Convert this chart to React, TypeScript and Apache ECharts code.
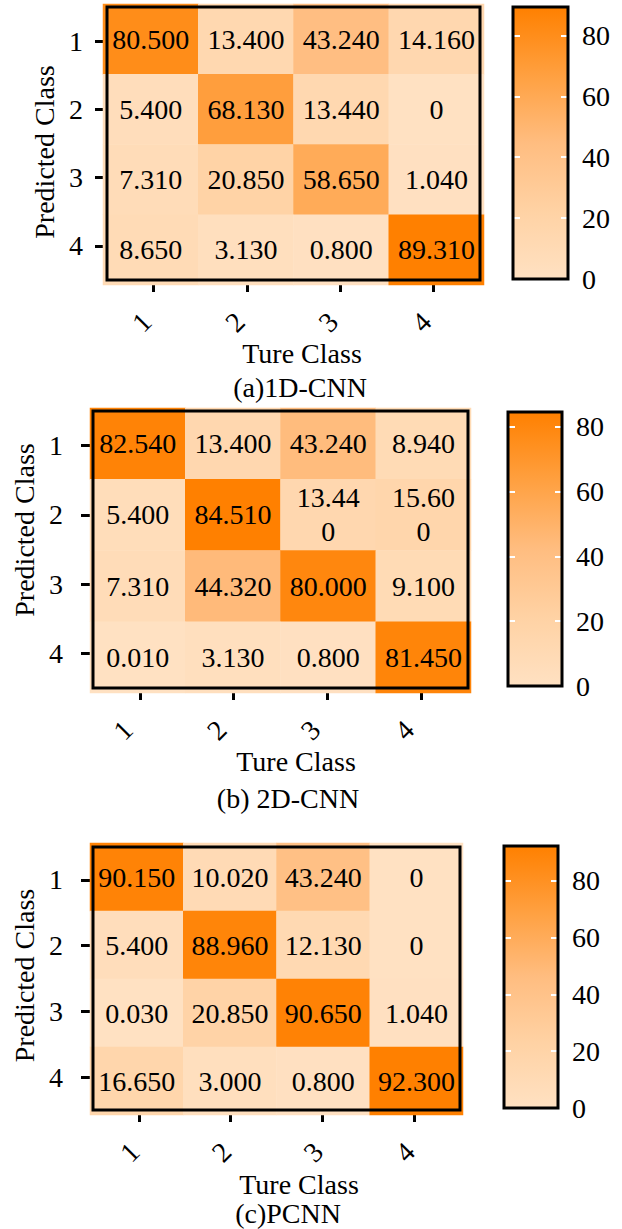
import React, { useEffect, useRef } from "react";
import * as echarts from "echarts";

// Class indices shared by both axes of every confusion matrix
const classLabels = ["1", "2", "3", "4"];

// Rows: predicted class 1..4, columns: true class 1..4
const cnn1D = [
  [80.5, 13.4, 43.24, 14.16],
  [5.4, 68.13, 13.44, 0],
  [7.31, 20.85, 58.65, 1.04],
  [8.65, 3.13, 0.8, 89.31],
];
const cnn2D = [
  [82.54, 13.4, 43.24, 8.94],
  [5.4, 84.51, 13.44, 15.6],
  [7.31, 44.32, 80.0, 9.1],
  [0.01, 3.13, 0.8, 81.45],
];
const pcnn = [
  [90.15, 10.02, 43.24, 0],
  [5.4, 88.96, 12.13, 0],
  [0.03, 20.85, 90.65, 1.04],
  [16.65, 3.0, 0.8, 92.3],
];

const captions = ["(a)1D-CNN", "(b) 2D-CNN", "(c)PCNN"];
const matrices = [cnn1D, cnn2D, pcnn];
// Cells (row, col) whose value text wraps onto two lines
const wrappedCells = [[], [[1, 2], [1, 3]], []];

const colorbarStep = 20;

const FONT = "Liberation Serif";
const ramp = ["#FFE1C2", "#FFD2A4", "#FFBD80", "#FFA040", "#FF8000"];

// Pixel layout of each panel: [left, top, width, height]
const layouts = [
  {
    frame: [107, 7, 373, 273],
    heat: [103, 4, 381, 281],
    bar: [513, 7, 55, 272],
    yLabelMargin: 24,
    yNameGap: 48,
    yNamePad: [0, 17, 0, 0],
    xLabelMargin: 30,
    xLabelPad: 10,
    xNameGap: 56,
    xNamePad: [0, 0, 0, 17],
    caption: [300, 387],
  },
  {
    frame: [93, 411, 375, 277],
    heat: [90, 408, 381, 285],
    bar: [508, 412, 54, 274],
    yLabelMargin: 30,
    yNameGap: 54,
    yNamePad: [0, 0, 0, 39],
    xLabelMargin: 25,
    xLabelPad: 17,
    xNameGap: 56,
    xNamePad: [0, 0, 0, 31],
    caption: [288, 798],
  },
  {
    frame: [93, 847, 367, 263],
    heat: [90, 843, 373, 272],
    bar: [504, 846, 54, 262],
    yLabelMargin: 30,
    yNameGap: 54,
    yNamePad: [0, 0, 0, 6],
    xLabelMargin: 33,
    xLabelPad: 6,
    xNameGap: 54,
    xNamePad: [0, 0, 0, 45],
    caption: [288, 1213],
  },
];

const textBase = { fontFamily: FONT, fontSize: 28, color: "#000" };

function buildOption() {
  const grid: any[] = [];
  const xAxis: any[] = [];
  const yAxis: any[] = [];
  const heatSeries: any[] = [];
  const barSeries: any[] = [];
  const visualMap: any[] = [];
  const graphic: any[] = [];

  matrices.forEach((matrix, i) => {
    const L = layouts[i];
    const maxVal = Math.max(...matrix.flat());
    const rect = (r: number[]) => ({ left: r[0], top: r[1], width: r[2], height: r[3] });

    const gFrame = grid.length;
    grid.push({
      ...rect(L.frame),
      show: true,
      borderColor: "#000",
      borderWidth: 3,
      backgroundColor: "transparent",
      z: 10,
    });
    const gHeat = grid.length;
    grid.push({ ...rect(L.heat), show: false });
    const gBar = grid.length;
    grid.push({
      ...rect(L.bar),
      show: true,
      borderColor: "#000",
      borderWidth: 3,
      backgroundColor: "transparent",
      z: 10,
    });

    // Frame axes: ticks, class labels and axis titles
    xAxis.push({
      gridIndex: gFrame,
      type: "category",
      data: classLabels,
      axisLine: { show: false },
      axisTick: { show: true, alignWithLabel: true, length: 12, lineStyle: { color: "#000", width: 3 } },
      axisLabel: {
        ...textBase,
        rotate: 45,
        margin: L.xLabelMargin,
        padding: [0, L.xLabelPad, 0, 0],
      },
      splitLine: { show: false },
      name: "Ture Class",
      nameLocation: "middle",
      nameGap: L.xNameGap,
      nameTextStyle: { ...textBase, padding: L.xNamePad },
    });
    yAxis.push({
      gridIndex: gFrame,
      type: "category",
      data: classLabels,
      inverse: true,
      axisLine: { show: false },
      axisTick: { show: true, alignWithLabel: true, length: 12, lineStyle: { color: "#000", width: 3 } },
      axisLabel: { ...textBase, margin: L.yLabelMargin },
      splitLine: { show: false },
      name: "Predicted Class",
      nameLocation: "middle",
      nameRotate: 90,
      nameGap: L.yNameGap,
      nameTextStyle: { ...textBase, padding: L.yNamePad },
    });

    // Heatmap axes (hidden)
    const xHeat = xAxis.length;
    xAxis.push({ gridIndex: gHeat, type: "category", data: classLabels, show: false });
    const yHeat = yAxis.length;
    yAxis.push({ gridIndex: gHeat, type: "category", data: classLabels, inverse: true, show: false });

    // Colour bar axes, white ticks drawn on top of the gradient
    const xBar = xAxis.length;
    xAxis.push({ gridIndex: gBar, type: "category", data: [""], show: false });
    const barTick = { show: true, inside: true, length: 7, lineStyle: { color: "#fff", width: 2 } };
    yAxis.push({
      gridIndex: gBar,
      type: "value",
      position: "left",
      min: 0,
      max: maxVal,
      interval: colorbarStep,
      z: 6,
      axisLine: { show: false },
      axisTick: barTick,
      axisLabel: { show: false },
      splitLine: { show: false },
    });
    const yBar = yAxis.length;
    yAxis.push({
      gridIndex: gBar,
      type: "value",
      position: "right",
      min: 0,
      max: maxVal,
      interval: colorbarStep,
      z: 6,
      axisLine: { show: false },
      axisTick: barTick,
      axisLabel: { ...textBase, margin: 14, showMaxLabel: false },
      splitLine: { show: false },
    });

    const wraps = wrappedCells[i];
    const data: any[] = [];
    matrix.forEach((row, r) =>
      row.forEach((v, c) => {
        const wrap = wraps.some(([wr, wc]) => wr === r && wc === c);
        data.push(
          wrap
            ? { value: [c, r, v], label: { width: 70, overflow: "breakAll", lineHeight: 34 } }
            : { value: [c, r, v] }
        );
      })
    );

    visualMap.push({
      type: "continuous",
      show: false,
      min: 0,
      max: maxVal,
      dimension: 2,
      seriesIndex: i,
      inRange: { color: ramp },
    });

    heatSeries.push({
      type: "heatmap",
      xAxisIndex: xHeat,
      yAxisIndex: yHeat,
      data,
      label: {
        show: true,
        ...textBase,
        formatter: (p: any) => {
          const v = p.value[2];
          return v === 0 ? "0" : v.toFixed(3);
        },
      },
      itemStyle: { borderWidth: 0 },
    });

    barSeries.push({
      type: "bar",
      xAxisIndex: xBar,
      yAxisIndex: yBar,
      data: [maxVal],
      barWidth: "100%",
      silent: true,
      z: 1,
      itemStyle: {
        color: new echarts.graphic.LinearGradient(
          0,
          1,
          0,
          0,
          ramp.map((c, k) => ({ offset: k / (ramp.length - 1), color: c }))
        ),
      },
    });

    graphic.push({
      type: "text",
      x: L.caption[0],
      y: L.caption[1],
      style: {
        text: captions[i],
        font: `28px "${FONT}"`,
        fill: "#000",
        textAlign: "center",
        textVerticalAlign: "middle",
      },
    });
  });

  return {
    animation: false,
    backgroundColor: "#fff",
    textStyle: { fontFamily: FONT },
    grid,
    xAxis,
    yAxis,
    visualMap,
    series: [...heatSeries, ...barSeries],
    graphic,
  };
}

export default function App() {
  const ref = useRef<HTMLDivElement>(null);
  useEffect(() => {
    if (!ref.current) return;
    const chart = echarts.init(ref.current, undefined, { renderer: "svg" });
    chart.setOption(buildOption() as any);
    return () => chart.dispose();
  }, []);
  return (
    <div
      ref={ref}
      style={{ position: "absolute", left: 0, top: 0, width: 622, height: 1229, background: "#fff" }}
    />
  );
}
